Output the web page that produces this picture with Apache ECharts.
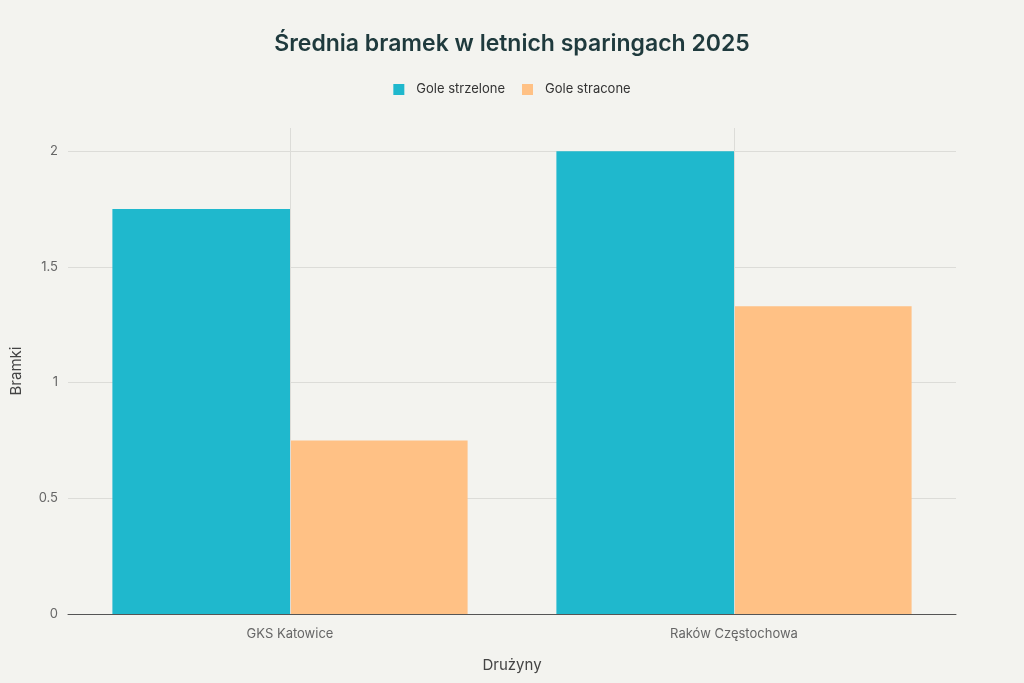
<!DOCTYPE html>
<html>
<head>
<meta charset="utf-8">
<script src="https://cdn.jsdelivr.net/npm/echarts@6/dist/echarts.min.js"></script>
<style>
  html, body { margin: 0; padding: 0; background: #f3f3ef; }
  #main { width: 1024px; height: 683px; }
</style>
</head>
<body>
<div id="main"></div>
<script>
var teams = ['GKS Katowice', 'Raków Częstochowa'];
var scored = [1.75, 2.0];
var conceded = [0.75, 1.33];
var yTicks = [0, 0.5, 1, 1.5, 2];

var myChart = echarts.init(document.getElementById('main'));

var font = 'Inter, "Noto Sans", sans-serif';

// vertical guide lines at the category centres
var centreLines = teams.map(function (t) { return { xAxis: t }; });

var option = {
    backgroundColor: '#f3f3ef',
    textStyle: { fontFamily: font },
    title: {
        text: 'Średnia bramek w letnich sparingach 2025',
        left: 'center',
        top: 28,
        textStyle: { fontSize: 23, fontWeight: 600, color: '#1f3a3d', fontFamily: font }
    },
    legend: {
        top: 78,
        left: 'center',
        itemWidth: 11,
        itemHeight: 11,
        itemGap: 17,
        icon: 'rect',
        textStyle: { fontSize: 13, color: '#333', fontFamily: font, padding: [0, 0, 0, 7] },
        data: ['Gole strzelone', 'Gole stracone']
    },
    grid: { left: 68, right: 68, top: 128, bottom: 69 },
    xAxis: {
        type: 'category',
        data: teams,
        name: 'Drużyny',
        nameLocation: 'middle',
        nameGap: 44,
        nameTextStyle: { fontSize: 15, color: '#444', fontFamily: font },
        axisTick: { show: false },
        axisLine: { lineStyle: { color: '#555', width: 1 } },
        axisLabel: { fontSize: 13, color: '#666', margin: 14, fontFamily: font },
        splitLine: { show: false }
    },
    yAxis: {
        type: 'value',
        min: 0,
        max: 2.1,
        interval: 0.5,
        name: 'Bramki',
        nameLocation: 'middle',
        nameGap: 44,
        nameTextStyle: { fontSize: 15, color: '#444', fontFamily: font },
        axisLine: { show: false },
        axisTick: { show: false },
        axisLabel: {
            fontSize: 13, color: '#666', margin: 10, fontFamily: font,
            formatter: function (v) { return yTicks.indexOf(v) >= 0 ? String(v) : ''; }
        },
        splitLine: { showMaxLine: false, lineStyle: { color: '#dcdcd8' } }
    },
    series: [
        {
            name: 'Gole strzelone',
            type: 'bar',
            data: scored,
            barGap: '0%',
            barCategoryGap: '20%',
            itemStyle: { color: '#1fb8cd' }
        },
        {
            name: 'Gole stracone',
            type: 'bar',
            data: conceded,
            itemStyle: { color: '#ffc185' }
        },
        {
            name: 'guides',
            type: 'line',
            data: [],
            silent: true,
            z: 0,
            markLine: {
                silent: true,
                symbol: 'none',
                label: { show: false },
                lineStyle: { color: '#dcdcd8', type: 'solid', width: 1 },
                data: centreLines
            }
        }
    ]
};

myChart.setOption(option);
</script>
</body>
</html>
